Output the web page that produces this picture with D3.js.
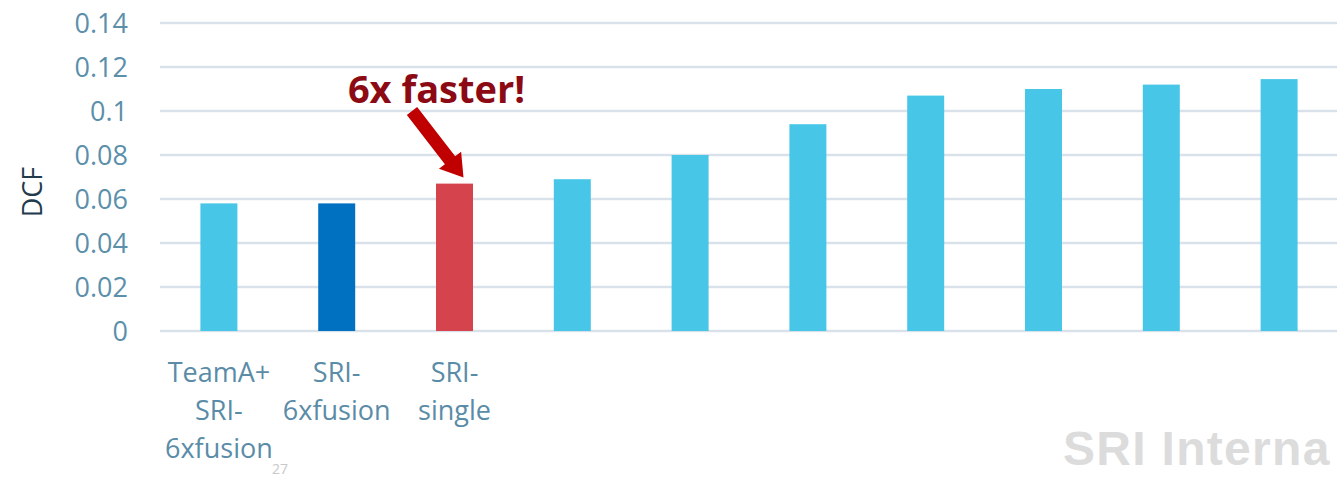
<!DOCTYPE html>
<html><head><meta charset="utf-8">
<script src="https://cdn.jsdelivr.net/npm/d3@7"></script>
<style>body{margin:0;background:#fff;} svg{display:block;}</style>
</head><body>
<svg id="chart" width="1337" height="478"></svg>
<script>
const categories = ["c1","c2","c3","c4","c5","c6","c7","c8","c9","c10"];
const categoryLabels = [["TeamA+","SRI-","6xfusion"],["SRI-","6xfusion"],["SRI-","single"],[],[],[],[],[],[],[]];
const values = [0.058, 0.058, 0.067, 0.069, 0.080, 0.094, 0.107, 0.110, 0.112, 0.1145];
const barColors = ["#47C6E8","#0070C0","#D5444C","#47C6E8","#47C6E8","#47C6E8","#47C6E8","#47C6E8","#47C6E8","#47C6E8"];
const yTicks = [0, 0.02, 0.04, 0.06, 0.08, 0.1, 0.12, 0.14];
const yTickLabels = ["0","0.02","0.04","0.06","0.08","0.1","0.12","0.14"];

const svg = d3.select("#chart");
const font = "'Open Sans', sans-serif";
const x = d3.scaleBand().domain(categories).range([160, 1338]).paddingInner(0.686).paddingOuter(0.343);
const y = d3.scaleLinear().domain([0, 0.14]).range([331, 23]);

// gridlines
svg.append("g").selectAll("line").data(yTicks).join("line")
  .attr("x1", 160).attr("x2", 1337)
  .attr("y1", d => y(d)).attr("y2", d => y(d))
  .attr("stroke", "#D9E2EA").attr("stroke-width", 2.5);

// y axis labels
const yAxis = d3.axisLeft(y).tickValues(yTicks).tickFormat((d,i) => yTickLabels[i]).tickSize(0).tickPadding(0);
const ya = svg.append("g").attr("transform", "translate(128,0)").call(yAxis);
ya.select(".domain").remove();
ya.selectAll("text").attr("font-family", font).attr("font-size", 27).attr("fill", "#5B8FAA").attr("dy", "0.34em");

// bars
svg.append("g").selectAll("rect").data(values).join("rect")
  .attr("x", (d,i) => x(categories[i])).attr("width", x.bandwidth())
  .attr("y", d => y(d)).attr("height", d => y(0) - y(d))
  .attr("fill", (d,i) => barColors[i]);

// x labels
const xl = svg.append("g").selectAll("text").data(categories).join("text")
  .attr("font-family", font).attr("font-size", 27).attr("fill", "#5A8CA8")
  .attr("text-anchor", "middle");
xl.each(function(c, i) {
  const t = d3.select(this);
  categoryLabels[i].forEach((line, j) => {
    t.append("tspan").attr("x", x(c) + x.bandwidth()/2).attr("y", 382 + j*38).text(line);
  });
});

// y title
svg.append("text").attr("transform", "translate(42,192) rotate(-90)")
  .attr("text-anchor", "middle").attr("font-family", font).attr("font-size", 27)
  .attr("fill", "#1F3B4D").text("DCF");

// annotation
const cx = x("c3") + x.bandwidth()/2;
svg.append("text").attr("x", cx - 18).attr("y", 103).attr("text-anchor", "middle")
  .attr("font-family", font).attr("font-weight", "bold").attr("font-size", 38)
  .attr("fill", "#8B0A14").text("6x faster!");
// arrow
const tip = [cx + 9, y(values[2]) - 6];
const start = [412, 111];
const ang = Math.atan2(tip[1]-start[1], tip[0]-start[0]);
const L = Math.hypot(tip[0]-start[0], tip[1]-start[1]);
const sw = 6.5, hw = 14, hl = 22;
const pts = [[0,-sw],[L-hl,-sw],[L-hl,-hw],[L,0],[L-hl,hw],[L-hl,sw],[0,sw]].map(([u,v]) =>
  [start[0] + u*Math.cos(ang) - v*Math.sin(ang), start[1] + u*Math.sin(ang) + v*Math.cos(ang)]);
svg.append("polygon").attr("points", pts.map(p => p.join(",")).join(" ")).attr("fill", "#C00000");

// page number
svg.append("text").attr("x", 272).attr("y", 474).attr("font-family", font).attr("font-size", 14)
  .attr("fill", "#C8C8C8").text("27");

// watermark
svg.append("text").attr("x", 1063).attr("y", 465).attr("font-family", "'Liberation Sans', Arial, sans-serif")
  .attr("font-weight", "bold").attr("font-size", 48).attr("fill", "#DCDCDC").attr("letter-spacing", 1.3).text("SRI Interna");
</script>
</body></html>
